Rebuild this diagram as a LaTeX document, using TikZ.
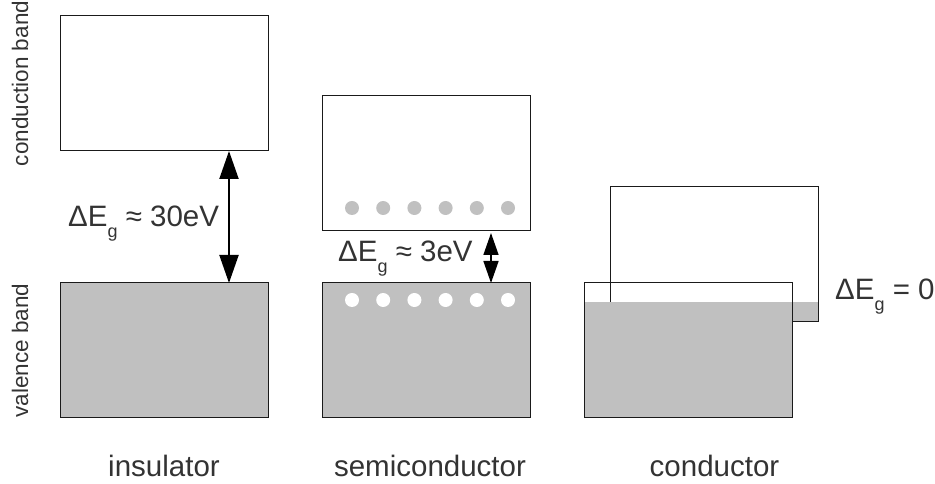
\documentclass[tikz,border=0pt]{standalone}
\usepackage{fontspec}
\setmainfont{Liberation Sans}
\usetikzlibrary{positioning,arrows.meta,calc}
\definecolor{cText}{HTML}{333333}
\definecolor{cBand}{HTML}{C0C0C0}
\definecolor{cEdge}{HTML}{1A1A1A}
\newcommand{\gsub}{\raisebox{-11pt}{\fontsize{18}{18}\selectfont g}}
\tikzset{
  band/.style   ={draw=cEdge, line width=1pt, minimum width=208pt, minimum height=135pt,
                  inner sep=0pt, outer sep=0pt},
  vband/.style  ={band, fill=cBand},
  cband/.style  ={band, fill=white},
  elec/.style   ={circle, fill=cBand, minimum size=14pt, inner sep=0pt},
  hole/.style   ={circle, fill=white, minimum size=14pt, inner sep=0pt},
  gaparr/.style ={{Triangle[length=28pt,width=19pt]}-{Triangle[length=28pt,width=19pt]}, line width=2pt},
  gaparrs/.style={{Triangle[length=22pt,width=15pt]}-{Triangle[length=22pt,width=15pt]}, line width=1.5pt},
  lbl/.style    ={text=cText, font=\fontsize{29.5}{34}\selectfont, inner sep=0pt},
  side/.style   ={text=cText, font=\fontsize{22.5}{26}\selectfont, inner sep=0pt, rotate=90, anchor=base},
}

\begin{document}
\begin{tikzpicture}[x=1pt, y=1pt]
\useasboundingbox (0,0) rectangle (935,484);
\node[vband] (insVB) at (164,133.5) {};
\node[cband, above=132pt of insVB] (insCB) {};
\node[vband, right=54pt of insVB] (semVB) {};
\node[cband, above=52pt of semVB] (semCB) {};
\node[band, draw=none, right=54pt of semVB] (conVB) {};
\node[cband] (conCB) at ($(conVB.center)+(26.5,96)$) {};

\foreach \i in {0,...,5} {
  \node[elec] (e\i) at ($(semCB.south west)+(30+31.2*\i,23)$) {};
  \node[hole] (h\i) at ($(semVB.north west)+(30+31.2*\i,-17)$) {};
}

\fill[cBand] ([yshift=-19pt]conVB.north west) rectangle (conVB.south east);
\fill[cBand] ([yshift=-19pt]conVB.north west -| conCB.west) rectangle (conCB.south east);
\draw[cEdge, line width=1pt] (conCB.north east) -- (conCB.south east) -- (conCB.south -| conVB.east);
\draw[cEdge, line width=1pt] (conVB.north west) rectangle (conVB.south east);

\coordinate (insGap) at ([xshift=-39pt]insCB.south east);
\coordinate (semGap) at ([xshift=-39pt]semCB.south east);
\draw[gaparr] (insGap) -- (insGap |- insVB.north);
\draw[gaparrs] ([yshift=-2pt]semGap) -- (semGap |- semVB.north);

\node[lbl, anchor=base west] (insEg) at (68,257) {ΔE\gsub{} ≈ 30eV};
\node[lbl, anchor=base west] (semEg) at (338,222) {ΔE\gsub{} ≈ 3eV};
\node[lbl, anchor=base west] (conEg) at (835,184) {ΔE\gsub{} = 0};

\node[lbl, anchor=base] (insName) at ($(insVB.south)+(0,-59)$) {insulator};
\node[lbl, anchor=base] (semName) at ($(semVB.south)+(4,-59)$) {semiconductor};
\node[lbl, anchor=base] (conName) at ($(conVB.south -| conCB.center)+(0,-59)$) {conductor};

\node[side] (cbName) at ([xshift=-32pt]insCB.west) {conduction band};
\node[side] (vbName) at ([xshift=-32pt]insVB.west) {valence band};
\end{tikzpicture}
\end{document}
